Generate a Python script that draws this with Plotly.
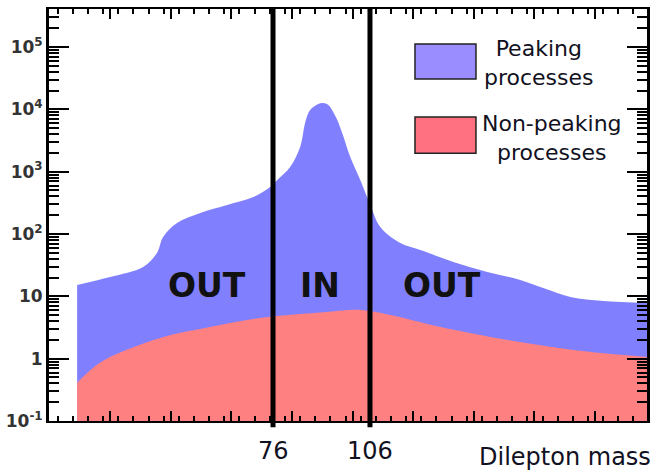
import plotly.graph_objects as go

# ---- data ----
peak_x = [15.4, 25.6, 35.8, 40.1, 42.0, 46.3, 53.5, 61.8, 69.9, 75.1, 77.3, 81.3, 84.4, 86.0, 87.5,
          90.0, 91.5, 93.1, 95.6, 97.4, 99.9, 103.0, 106.1, 109.2, 115.4, 121.6, 131.8, 142.3, 152.5,
          159.6, 168.0, 178.2, 191.8]
peak_y = [15.2, 20.4, 29.6, 49.6, 89.5, 150, 217, 292, 392, 568, 736, 1190, 2490, 6270, 9770,
          12190, 12600, 11750, 7260, 4180, 1720, 736, 292, 130, 71.8, 55.3, 35.6, 24.6, 18.3,
          13.6, 9.76, 8.42, 7.82]
nonpeak_x = [15.4, 20.3, 25.6, 41.1, 56.5, 72.0, 92.8, 103.0, 112.3, 127.8, 148.5, 169.0, 191.8]
nonpeak_y = [0.41, 0.71, 1.06, 2.15, 3.22, 4.49, 5.61, 6.04, 5.02, 3.22, 2.00, 1.38, 1.06]
window_edges = [76, 106]
y_tickvals = [0.1, 1, 10, 100, 1000, 10000, 100000]
y_ticktext = ["10<sup>-1</sup>", "1", "10", "10<sup>2</sup>", "10<sup>3</sup>", "10<sup>4</sup>", "10<sup>5</sup>"]
region_labels = ["OUT", "IN", "OUT"]
legend_labels = ["Peaking<br>processes", "Non-peaking<br>processes"]
x_title = "Dilepton mass"

BLUE = "rgb(128,128,255)"
RED = "rgb(255,128,128)"
FONT = "DejaVu Sans"

fig = go.Figure()
base = 0.01
# baseline + peaking area
fig.add_trace(go.Scatter(x=[peak_x[0], peak_x[-1]], y=[base, base], mode="lines",
                         line=dict(width=0), showlegend=False, hoverinfo="skip"))
fig.add_trace(go.Scatter(x=peak_x, y=peak_y, mode="lines", line=dict(width=0, shape="spline", smoothing=1.0),
                         fill="tonexty", fillcolor=BLUE, showlegend=False))
# baseline + non-peaking area
fig.add_trace(go.Scatter(x=[nonpeak_x[0], nonpeak_x[-1]], y=[base, base], mode="lines",
                         line=dict(width=0), showlegend=False, hoverinfo="skip"))
fig.add_trace(go.Scatter(x=nonpeak_x, y=nonpeak_y, mode="lines", line=dict(width=0, shape="spline", smoothing=1.0),
                         fill="tonexty", fillcolor=RED, showlegend=False))

# window lines
for xe in window_edges:
    fig.add_shape(type="line", xref="x", yref="paper", x0=xe, x1=xe, y0=-0.015, y1=1,
                  line=dict(color="black", width=5))
    fig.add_annotation(x=xe, xref="x", y=-0.072, yref="paper", text=str(xe), showarrow=False,
                       xanchor="center", yanchor="middle",
                       font=dict(family=FONT, size=24, color="#111122"))

fig.add_annotation(x=1.01, xref="paper", y=-0.088, yref="paper", text=x_title, showarrow=False,
                   xanchor="right", yanchor="middle", font=dict(family=FONT, size=24, color="#111122"))

for lab, px in zip(region_labels, [0.264, 0.453, 0.657]):
    fig.add_annotation(x=px, xref="paper", y=0.33, yref="paper", text=lab, showarrow=False,
                       xanchor="center", yanchor="middle",
                       font=dict(family=FONT, size=33, color="#111111", weight="bold"))

# legend (drawn manually)
leg = [(0.830, 0.915, "#9a8dff", 0.819, 0.868), (0.650, 0.738, "#ff7080", 0.841, 0.687)]
for (y0, y1, col, tx, ty), lab in zip(leg, legend_labels):
    fig.add_shape(type="rect", xref="paper", yref="paper", x0=0.612, x1=0.714, y0=y0, y1=y1,
                  fillcolor=col, line=dict(color="#222222", width=1.5))
    fig.add_annotation(x=tx, xref="paper", y=ty, yref="paper", text=lab, showarrow=False,
                       xanchor="center", yanchor="middle", align="center",
                       font=dict(family=FONT, size=22, color="#111122"))

minor_y = [k * 10 ** n for n in range(-1, 6) for k in range(2, 10)]

fig.update_xaxes(range=[6.7, 191.7], showgrid=False, zeroline=False, showticklabels=False,
                 showline=True, linecolor="black", linewidth=2, mirror="ticks", automargin=False,
                 ticks="inside", ticklen=10, tickwidth=2, tickcolor="black",
                 tick0=25.6, dtick=18.75,
                 minor=dict(ticks="inside", ticklen=5, tickwidth=2, tickcolor="black", dtick=4.6875, showgrid=False))
fig.update_yaxes(type="log", range=[-1, 5.61], showgrid=False, zeroline=False,
                 showline=True, linecolor="black", linewidth=3, mirror="ticks", automargin=False,
                 ticks="inside", ticklen=20, tickwidth=2, tickcolor="black",
                 tickvals=y_tickvals, ticktext=y_ticktext,
                 tickfont=dict(family=FONT, size=17, color="#333333", weight="bold"),
                 minor=dict(ticks="inside", ticklen=10, tickwidth=2, tickcolor="black",
                            tickvals=minor_y, showgrid=False))

fig.update_layout(width=657, height=473, margin=dict(l=49, r=10, t=9, b=52, autoexpand=False),
                  plot_bgcolor="white", paper_bgcolor="white", showlegend=False,
                  font=dict(family=FONT))
fig.write_html("out.html")
